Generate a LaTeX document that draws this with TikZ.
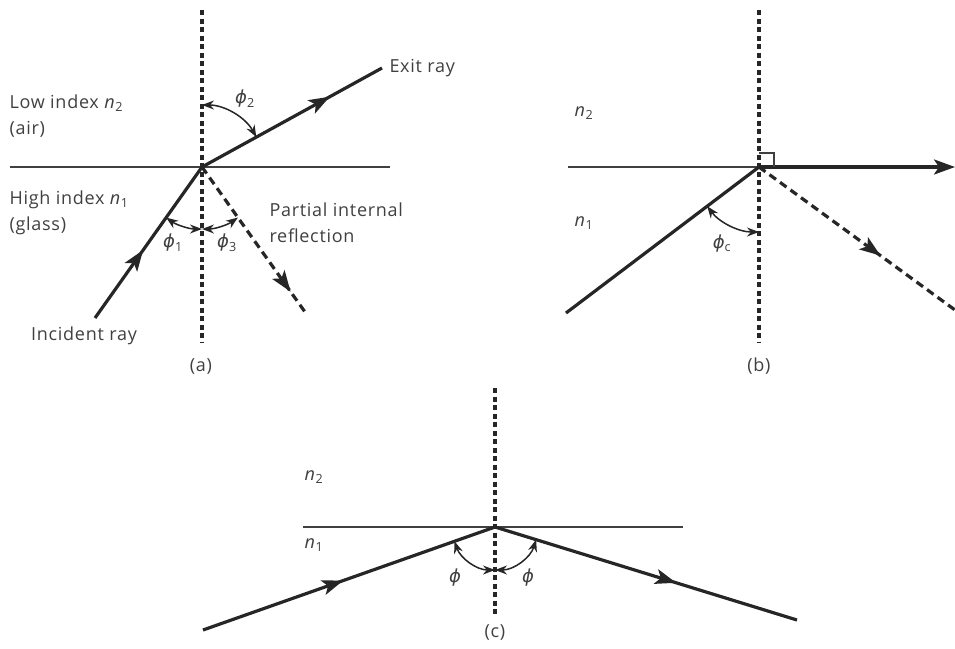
\documentclass[tikz,border=0pt]{standalone}
\usepackage{fontspec}
\setmainfont{Open Sans}[LetterSpace=4]
\newfontfamily\grkfont{DejaVu Sans}
\usetikzlibrary{arrows.meta,decorations.markings,angles}
\colorlet{ink}{black!85}
\newcommand{\nidx}[1]{\textit{n}\textsubscript{#1}}
\newcommand{\phisym}{{\grkfont\itshape ϕ}}
\newcommand{\phiang}[1]{\phisym\textsubscript{#1}}
\begin{document}
\begin{tikzpicture}[x=1pt,y=-1pt,font=\fontsize{18}{26}\selectfont,text=black!75,
  ray/.style={draw=ink,line width=3.2pt},
  dray/.style={ray,dash pattern=on 8pt off 5pt},
  normal/.style={draw=ink,line width=3.2pt,dash pattern=on 5pt off 3.5pt},
  surf/.style={draw=black!75,line width=1.5pt},
  midarr/.style={postaction={decorate},decoration={markings,mark=at position #1 with {\arrow{Stealth[length=21pt,width=15pt,inset=5pt]}}}},
  angarr/.style={draw=ink,line width=1.5pt,{Stealth[length=12pt,width=9pt]}-{Stealth[length=12pt,width=9pt]}}]
\useasboundingbox (0,0) rectangle (955,648);
% (a)
\coordinate (O1) at (202,167);
\coordinate (topA) at (202,10); \coordinate (botA) at (202,343);
\coordinate (lA) at (10,167); \coordinate (rA) at (390,167);
\coordinate (inA) at (95,318); \coordinate (exA) at (382,68); \coordinate (refA) at (305,312);
\draw[surf] (lA) -- (rA);
\draw[normal] (topA) -- (botA);
\draw[ray,midarr=0.45] (inA) -- (O1);
\draw[ray,midarr=0.71] (O1) -- (exA);
\draw[dray,midarr=0.86] (O1) -- (refA);
\pic[angarr,angle radius=62pt] {angle=exA--O1--topA};
\pic[angarr,angle radius=62pt] {angle=inA--O1--botA};
\pic[angarr,angle radius=62pt] {angle=botA--O1--refA};
\node[anchor=west] (exlbl) at (386,68) {Exit ray};
\node[anchor=west,align=left] (lowlbl) at (6,116) {Low index \nidx{2}\\(air)};
\node[anchor=west,align=left] (highlbl) at (6,213) {High index \nidx{1}\\(glass)};
\node[anchor=west,align=left] (partlbl) at (266,223) {Partial internal\\reflection};
\node (inlbl) at (84,336) {Incident ray};
\node (ph2) at (245,99) {\phiang{2}};
\node (ph1) at (173,243) {\phiang{1}};
\node (ph3) at (227,243) {\phiang{3}};
\node (capA) at (201,366) {(a)};
% (b)
\coordinate (O2) at (759,167);
\coordinate (topB) at (759,10); \coordinate (botB) at (759,343);
\coordinate (lB) at (568,167); \coordinate (exB) at (955,167);
\coordinate (inB) at (566,313); \coordinate (refB) at (955,310);
\draw[surf] (lB) -- (O2);
\draw[normal] (topB) -- (botB);
\draw[ray,-{Stealth[length=21pt,width=15pt,inset=5pt]}] (O2) -- (exB);
\draw[ray] (inB) -- (O2);
\draw[dray,midarr=0.62] (O2) -- (refB);
\draw[surf] ([yshift=14pt]O2) -| ([xshift=15pt]O2);
\pic[angarr,angle radius=65pt] {angle=inB--O2--botB};
\node[anchor=west] (n2b) at (571,113) {\nidx{2}};
\node[anchor=west] (n1b) at (571,223) {\nidx{1}};
\node (phc) at (722,244) {\phiang{c}};
\node (capB) at (759,366) {(b)};
% (c)
\coordinate (O3) at (495,527);
\coordinate (topC) at (495,388); \coordinate (botC) at (495,617);
\coordinate (lC) at (303,527); \coordinate (rC) at (683,527);
\coordinate (inC) at (203,630); \coordinate (outC) at (797,620);
\draw[surf] (lC) -- (rC);
\draw[normal] (topC) -- (botC);
\draw[ray,midarr=0.48] (inC) -- (O3);
\draw[ray,midarr=0.6] (O3) -- (outC);
\pic[angarr,angle radius=43pt] {angle=inC--O3--botC};
\pic[angarr,angle radius=43pt] {angle=botC--O3--outC};
\node[anchor=west] (n2c) at (301,477) {\nidx{2}};
\node[anchor=west] (n1c) at (301,545) {\nidx{1}};
\node (phl) at (455,578) {\phisym};
\node (phr) at (528,578) {\phisym};
\node (capC) at (495,632) {(c)};
\end{tikzpicture}
\end{document}
